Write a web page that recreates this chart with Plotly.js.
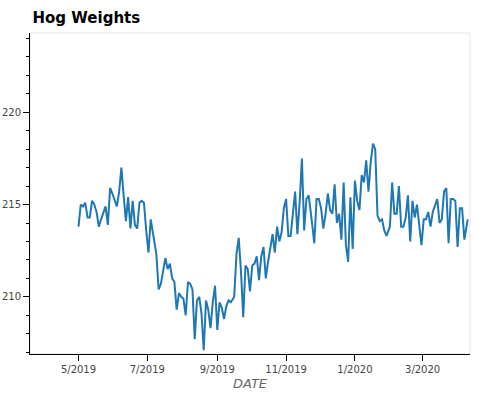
<!DOCTYPE html>
<html>
<head>
<script src="https://cdn.plot.ly/plotly-3.0.1.min.js"></script>
<style>html,body{margin:0;padding:0;background:#fff}#chart{width:500px;height:400px}</style>
</head>
<body>
<div id="chart"></div>
<script>
// hog weights
const weights = [213.8, 215, 214.9, 215.1, 214.3, 214.3, 215.2, 215, 214.6, 213.8, 214.2, 214.5, 214.9, 213.9, 215.9, 215.6, 215.2, 214.9, 215.7, 217.0,
  215.5, 214.1, 215.4, 213.7, 215.2, 213.9, 213.7, 215.1, 215.2, 215.1, 213.6, 212.4, 214.2, 213.4, 212.3, 210.4, 210.7, 211.4, 212.1, 211.5,
  211.8, 211.0, 210.8, 209.3, 210.2, 210.0, 209.9, 209.0, 210.8, 210.7, 210.4, 207.7, 209.8, 210.0, 209.1, 207.1, 209.8, 209.3, 208.3, 209.7,
  210.6, 208.2, 209.7, 209.4, 208.8, 209.5, 209.8, 209.7, 210.0, 212.3, 213.2, 211.4, 208.9, 211.7, 211.5, 210.3, 211.7, 211.8, 212.2, 210.9,
  212.2, 212.7, 211.0, 211.9, 212.7, 213.4, 212.4, 213.8, 213.0, 213.5, 214.8, 215.3, 213.3, 213.3, 214.5, 215.7, 213.4, 215.1, 217.5, 213.6,
  215.3, 215.5, 214.0, 212.9, 215.3, 215.3, 214.8, 213.7, 214.5, 215.6, 214.7, 214.5, 216.1, 214.0, 214.5, 213.1, 216.2, 212.8, 211.9, 215.4,
  212.6, 216.3, 215.2, 214.7, 216.6, 216.2, 217.4, 215.7, 217.3, 218.3, 218.0, 214.4, 214.1, 214.2, 213.6, 213.3, 213.8, 216.2, 214.5, 214.5,
  216.0, 213.8, 213.8, 214.3, 215.5, 213.0, 215.2, 214.3, 215.0, 213.8, 212.8, 214.2, 214.2, 214.6, 213.8, 214.6, 215.0, 215.3, 214.0, 214.2,
  215.7, 215.9, 212.9, 215.3, 215.3, 215.2, 212.7, 214.8, 214.8, 213.1, 214.2];

// one reading every ~2 days from 2019-05-01
const startDate = new Date(Date.UTC(2019, 4, 1));
const endDate = new Date(Date.UTC(2020, 3, 10));
const step = (endDate - startDate) / (weights.length - 1);
const dates = weights.map((_, i) => new Date(startDate.getTime() + i * step).toISOString().slice(0, 10));

const axisFont = { family: 'DejaVu Sans, sans-serif', size: 10, color: '#444' };

Plotly.newPlot('chart', [{
  x: dates,
  y: weights,
  type: 'scatter',
  mode: 'lines',
  line: { color: '#1f77b4', width: 2 },
  hoverinfo: 'x+y'
}], {
  width: 500,
  height: 400,
  title: { text: '<b>Hog Weights</b>', x: 0.065, xanchor: 'left', y: 0.97, yanchor: 'top',
    font: { family: 'DejaVu Sans, sans-serif', size: 15, color: '#000' } },
  margin: { l: 30, r: 30, t: 33, b: 46 },
  paper_bgcolor: '#fff',
  plot_bgcolor: '#fff',
  showlegend: false,
  xaxis: {
    type: 'date',
    range: ['2019-03-19', '2020-04-12'],
    tick0: '2019-05-01',
    dtick: 'M2',
    tickformat: '%-m/%Y',
    ticks: 'outside', ticklen: 6, tickcolor: '#000',
    showline: true, linecolor: '#000', mirror: false,
    showgrid: false, zeroline: false,
    tickfont: axisFont,
    title: { text: '<i>DATE</i>', font: { family: 'DejaVu Sans, sans-serif', size: 13, color: '#666' }, standoff: 4 }
  },
  yaxis: {
    range: [206.9, 224.3],
    dtick: 5,
    ticks: 'outside', ticklen: 6, tickcolor: '#000',
    minor: { dtick: 1, ticks: 'outside', ticklen: 3, tickcolor: '#000' },
    showline: true, linecolor: '#000',
    showgrid: false, zeroline: false,
    tickfont: axisFont
  },
  shapes: [{ type: 'rect', xref: 'paper', yref: 'paper', x0: 0, x1: 1, y0: 0, y1: 1,
    line: { color: '#e5e5e5', width: 1 }, layer: 'below' }]
}, { displayModeBar: false });
</script>
</body>
</html>
